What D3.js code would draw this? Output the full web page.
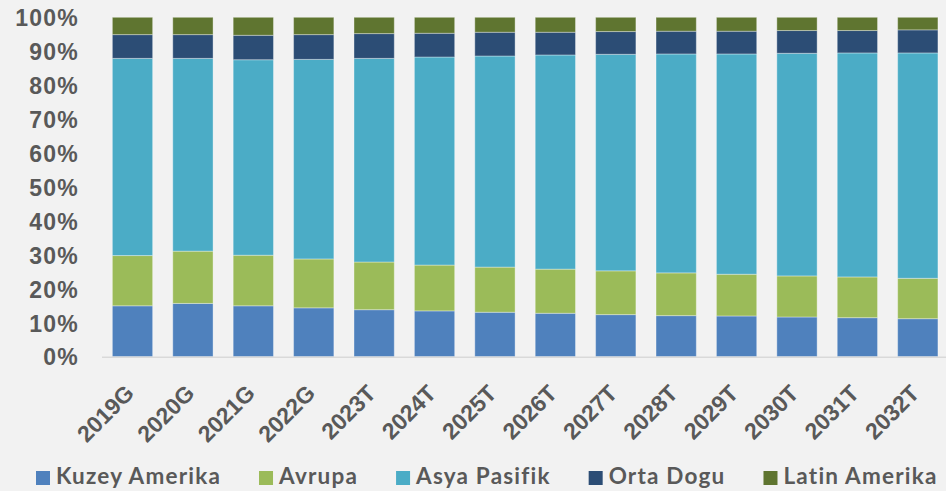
<!DOCTYPE html>
<html>
<head>
<meta charset="utf-8">
<script src="https://cdn.jsdelivr.net/npm/d3@7"></script>
<style>
  html, body { margin: 0; padding: 0; background: #F2F2F2; }
  svg { display: block; font-family: "Century Gothic", Futura, Lato, "DejaVu Sans", sans-serif; font-weight: bold; }
</style>
</head>
<body>
<svg id="chart" width="946" height="491"></svg>
<script>
const categories = ["2019G","2020G","2021G","2022G","2023T","2024T","2025T","2026T","2027T","2028T","2029T","2030T","2031T","2032T"];
const seriesNames = ["Kuzey Amerika","Avrupa","Asya Pasifik","Orta Dogu","Latin Amerika"];
const kuzeyAmerika = [15.0,15.7,15.0,14.4,13.85,13.5,13.1,12.8,12.4,12.1,12.0,11.7,11.5,11.2];
const avrupa       = [14.8,15.4,14.9,14.4,14.05,13.5,13.3,13.0,12.9,12.6,12.3,12.1,12.0,11.9];
const asyaPasifik  = [58.1,56.8,57.6,58.8,60.0,61.3,62.2,63.1,63.8,64.5,64.9,65.6,66.0,66.4];
const ortaDogu     = [7.0,7.0,7.2,7.3,7.3,7.0,7.0,6.7,6.7,6.7,6.7,6.7,6.6,6.8];
const latinAmerika = [5.1,5.1,5.3,5.1,4.8,4.7,4.4,4.4,4.2,4.1,4.1,3.9,3.9,3.7];
const yTicks = [0,10,20,30,40,50,60,70,80,90,100];
const colors = ["#4F81BD","#9BBB59","#4BACC6","#2C4D75","#5F7530"];

const seriesValues = [kuzeyAmerika, avrupa, asyaPasifik, ortaDogu, latinAmerika];
const table = categories.map((c, i) => {
  const row = { cat: c };
  const total = seriesValues.reduce((s, arr) => s + arr[i], 0);
  seriesNames.forEach((n, k) => row[n] = seriesValues[k][i] / total);
  return row;
});

const svg = d3.select("#chart");
const textColor = "#595959";

const x = d3.scaleBand().domain(categories).range([102.3, 948]).paddingInner(0.333).paddingOuter(0.1665);
const y = d3.scaleLinear().domain([0, 1]).range([356.7, 17.3]);

const stacked = d3.stack().keys(seriesNames)(table);

// bars
svg.append("g").selectAll("g.series").data(stacked).join("g")
  .attr("class", "series")
  .attr("fill", (d, i) => colors[i])
  .selectAll("rect").data(d => d).join("rect")
  .attr("x", d => x(d.data.cat))
  .attr("width", x.bandwidth())
  .attr("y", d => y(d[1]))
  .attr("height", d => y(d[0]) - y(d[1]))
  .attr("stroke", "rgba(255,255,255,0.35)")
  .attr("stroke-width", 1);

// baseline
svg.append("line")
  .attr("x1", 102).attr("x2", 946)
  .attr("y1", y(0) + 0.5).attr("y2", y(0) + 0.5)
  .attr("stroke", "#D9D9D9").attr("stroke-width", 1.5);

// y axis
const yAxis = d3.axisLeft(y).tickValues(yTicks.map(v => v / 100))
  .tickFormat(d => Math.round(d * 100) + "%").tickSize(0).tickPadding(0);
const ya = svg.append("g").attr("transform", "translate(79,0)").call(yAxis);
ya.select(".domain").remove();
ya.selectAll("text")
  .attr("fill", textColor)
  .style("font-size", "23px")
  .style("font-weight", "bold")
  .style("font-family", "inherit")
  .style("letter-spacing", "1.2px")
  .attr("dy", "0.36em");

// x axis
const xAxis = d3.axisBottom(x).tickSize(0).tickPadding(0);
const xa = svg.append("g").attr("transform", `translate(0,${y(0)})`).call(xAxis);
xa.select(".domain").remove();
xa.selectAll("text")
  .attr("fill", textColor)
  .style("font-size", "23px")
  .style("font-weight", "bold")
  .style("font-family", "inherit")
  .attr("text-anchor", "end")
  .attr("dy", null)
  .attr("y", 0)
  .attr("transform", "translate(3,38) rotate(-45)");

// legend
const legend = svg.append("g").attr("transform", "translate(36,0)");
let lx = 0;
seriesNames.forEach((n, i) => {
  const item = legend.append("g").attr("transform", `translate(${lx},0)`);
  item.append("rect").attr("x", 0).attr("y", 471).attr("width", 14).attr("height", 14).attr("fill", colors[i]);
  const t = item.append("text").attr("x", 20).attr("y", 484.3)
    .attr("fill", textColor).style("font-size", "22.5px").style("letter-spacing", "1.2px").text(n);
  lx += 20 + t.node().getComputedTextLength() + 38;
});
</script>
</body>
</html>
